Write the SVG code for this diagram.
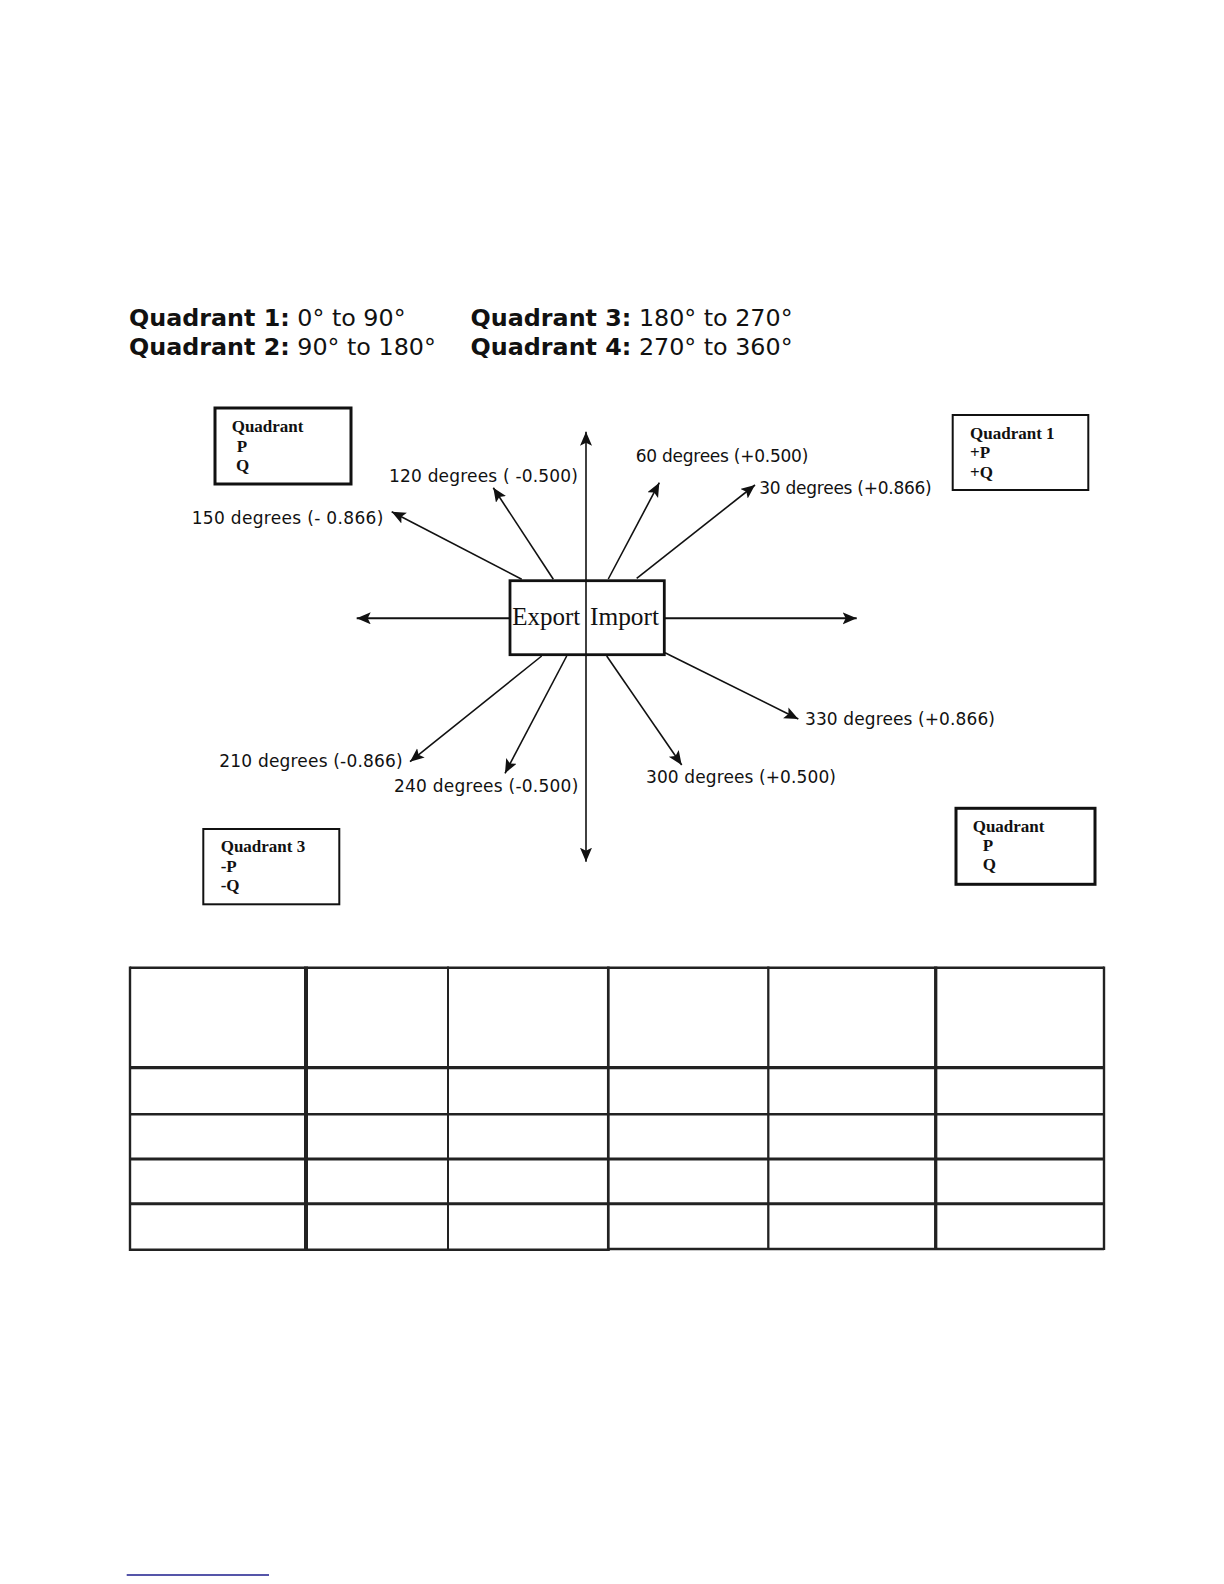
<svg xmlns="http://www.w3.org/2000/svg" width="1224" height="1584" viewBox="0 0 1224 1584">
<style>
.title{font-family:"DejaVu Sans","Verdana",sans-serif;font-size:23.8px;fill:#111}
.b{font-weight:bold}
.lbl{font-family:"DejaVu Sans","Verdana",sans-serif;font-size:17px;fill:#111}
.qt{font-family:"Liberation Serif","Times New Roman",serif;font-size:17px;font-weight:bold;fill:#111}
.ctr{font-family:"Liberation Serif","Times New Roman",serif;font-size:25px;fill:#111}
.box{fill:none;stroke:#111}
.arr{stroke:#111;stroke-width:1.6;fill:none;marker-end:url(#ah)}
.tl{stroke:#222;fill:none}
</style>
<defs>
<marker id="ah" markerUnits="userSpaceOnUse" markerWidth="15" markerHeight="13" refX="14" refY="6" orient="auto">
<path d="M0,0 L14,6 L0,12 L3,6 z" fill="#111"/>
</marker>
</defs>
<rect width="1224" height="1584" fill="#fff"/>

<g id="title">
<text class="title" x="129" y="326"><tspan class="b">Quadrant 1:</tspan> 0° to 90°</text>
<text class="title" x="129" y="354.5"><tspan class="b">Quadrant 2:</tspan> 90° to 180°</text>
<text class="title" x="470.6" y="326"><tspan class="b">Quadrant 3:</tspan> 180° to 270°</text>
<text class="title" x="470.6" y="354.5"><tspan class="b">Quadrant 4:</tspan> 270° to 360°</text>
</g>

<g id="connectors">
<line class="arr" x1="586" y1="618" x2="586" y2="431.7"/>
<line class="arr" x1="586" y1="618" x2="586" y2="861.7"/>
<line class="arr" style="stroke-width:2" x1="510" y1="618.3" x2="356.7" y2="618.3"/>
<line class="arr" style="stroke-width:2" x1="664.3" y1="618.3" x2="856.7" y2="618.3"/>
<line class="arr" x1="521.7" y1="579.3" x2="391.7" y2="511.7"/>
<line class="arr" x1="553.3" y1="579.3" x2="493.3" y2="487.7"/>
<line class="arr" x1="608.3" y1="579" x2="659.3" y2="482.7"/>
<line class="arr" x1="636.7" y1="578.3" x2="755" y2="485"/>
<line class="arr" x1="541.7" y1="656" x2="410" y2="761.7"/>
<line class="arr" x1="566.7" y1="656" x2="505" y2="773.3"/>
<line class="arr" x1="606.7" y1="656" x2="681.7" y2="765"/>
<line class="arr" x1="665" y1="652.7" x2="798.3" y2="719"/>
</g>

<g id="center">
<rect class="box" x="510" y="580.7" width="154.3" height="74" stroke-width="2.8"/>
<text class="ctr" x="512.3" y="625" textLength="68" lengthAdjust="spacingAndGlyphs">Export</text>
<text class="ctr" x="590" y="625" textLength="69" lengthAdjust="spacingAndGlyphs">Import</text>
</g>

<g id="labels">
<text class="lbl" x="191.7" y="524.3" textLength="191.6" lengthAdjust="spacing">150 degrees (- 0.866)</text>
<text class="lbl" x="389" y="482" textLength="189" lengthAdjust="spacing">120 degrees ( -0.500)</text>
<text class="lbl" x="635.7" y="461.7" textLength="172.6" lengthAdjust="spacing">60 degrees (+0.500)</text>
<text class="lbl" x="759.3" y="494" textLength="172.4" lengthAdjust="spacing">30 degrees (+0.866)</text>
<text class="lbl" x="219.3" y="766.7" textLength="183.4" lengthAdjust="spacing">210 degrees (-0.866)</text>
<text class="lbl" x="394" y="791.7" textLength="184.3" lengthAdjust="spacing">240 degrees (-0.500)</text>
<text class="lbl" x="646" y="782.7" textLength="190" lengthAdjust="spacing">300 degrees (+0.500)</text>
<text class="lbl" x="805" y="725" textLength="190" lengthAdjust="spacing">330 degrees (+0.866)</text>
</g>

<g id="quadrant-tl">
<rect class="box" x="215" y="408" width="136" height="76" stroke-width="3"/>
<text class="qt" x="231.7" y="431.7">Quadrant</text>
<text class="qt" x="236.7" y="451.7">P</text>
<text class="qt" x="236" y="471">Q</text>
</g>

<g id="quadrant-1">
<rect class="box" x="952.7" y="415" width="135.6" height="75" stroke-width="2"/>
<text class="qt" x="970" y="439.3">Quadrant 1</text>
<text class="qt" x="970" y="458.3">+P</text>
<text class="qt" x="970" y="478.3">+Q</text>
</g>

<g id="quadrant-3">
<rect class="box" x="203.3" y="829" width="136" height="75.3" stroke-width="2"/>
<text class="qt" x="220.7" y="852.3">Quadrant 3</text>
<text class="qt" x="220.7" y="871.7">-P</text>
<text class="qt" x="220.7" y="890.7">-Q</text>
</g>

<g id="quadrant-br">
<rect class="box" x="956" y="808.3" width="139" height="76" stroke-width="3"/>
<text class="qt" x="972.7" y="831.7">Quadrant</text>
<text class="qt" x="982.7" y="850.7">P</text>
<text class="qt" x="982.7" y="870">Q</text>
</g>

<g id="table">
<line class="tl" x1="130" y1="967.7" x2="1104" y2="967.7" stroke-width="2.4"/>
<line class="tl" x1="130" y1="1067.7" x2="1104" y2="1067.7" stroke-width="3.2"/>
<line class="tl" x1="130" y1="1114.3" x2="1104" y2="1114.3" stroke-width="2.4"/>
<line class="tl" x1="130" y1="1159" x2="1104" y2="1159" stroke-width="3"/>
<line class="tl" x1="130" y1="1203.7" x2="1104" y2="1203.7" stroke-width="3"/>
<line class="tl" x1="130" y1="1249.8" x2="609.5" y2="1249.8" stroke-width="2.4"/>
<line class="tl" x1="607" y1="1249" x2="1104" y2="1249" stroke-width="2.4"/>
<line class="tl" x1="130" y1="966.5" x2="130" y2="1251" stroke-width="2.4"/>
<line class="tl" x1="306" y1="966.5" x2="306" y2="1251" stroke-width="4"/>
<line class="tl" x1="448" y1="966.5" x2="448" y2="1251" stroke-width="2"/>
<line class="tl" x1="608.3" y1="966.5" x2="608.3" y2="1251" stroke-width="2.7"/>
<line class="tl" x1="768.3" y1="966.5" x2="768.3" y2="1250" stroke-width="2.3"/>
<line class="tl" x1="935.7" y1="966.5" x2="935.7" y2="1250" stroke-width="3.3"/>
<line class="tl" x1="1104" y1="966.5" x2="1104" y2="1250" stroke-width="2.4"/>
</g>

<line x1="126.7" y1="1575" x2="269" y2="1575" stroke="#1c1c8c" stroke-width="1.3"/>
</svg>
